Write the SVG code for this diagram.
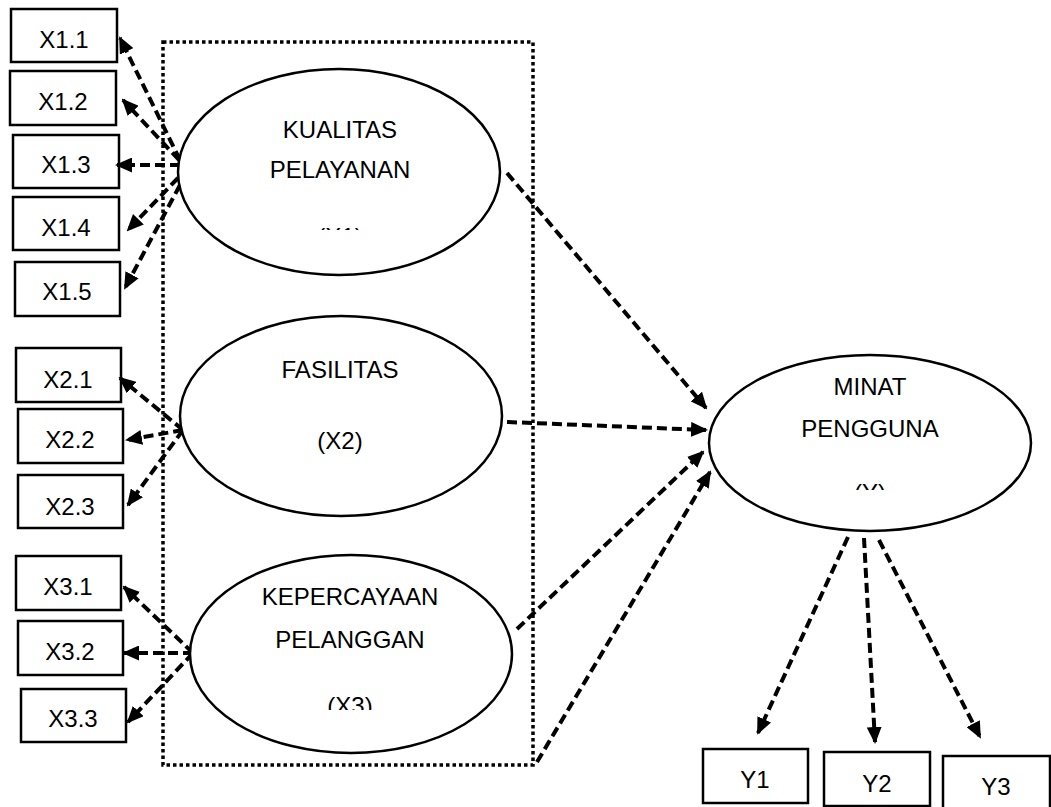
<svg xmlns="http://www.w3.org/2000/svg" width="1051" height="807" viewBox="0 0 1051 807">
<style>
.box{fill:#fff;stroke:#000;stroke-width:2.5}
.ell{fill:#fff;stroke:#000;stroke-width:2.5}
.t{font-family:"Liberation Sans",Arial,sans-serif;font-size:24px;fill:#000;text-anchor:middle}
.c{fill:none;stroke:#000;stroke-width:4;stroke-dasharray:10 5;marker-end:url(#ah)}
.dot{fill:none;stroke:#000;stroke-width:3.5;stroke-dasharray:3.5 3}
</style>
<defs>
<marker id="ah" markerUnits="userSpaceOnUse" markerWidth="17" markerHeight="15" viewBox="0 0 17 15" refX="15" refY="7.5" orient="auto">
<path d="M0,0 L17,7.5 L0,15 z" fill="#000"/>
</marker>
<clipPath id="cx1"><rect x="250" y="200" width="180" height="30"/></clipPath>
<clipPath id="cx3"><rect x="260" y="680" width="180" height="30"/></clipPath>
<clipPath id="cy"><rect x="780" y="470" width="180" height="20"/></clipPath>
</defs>
<rect width="1051" height="807" fill="#fff"/>
<rect id="group-box" class="dot" x="163" y="42" width="370" height="723"/>

<g id="X1.1"><rect class="box" x="11" y="9" width="106" height="53"/><text class="t" x="64" y="48">X1.1</text></g>
<g id="X1.2"><rect class="box" x="10" y="71" width="106" height="54"/><text class="t" x="63" y="110">X1.2</text></g>
<g id="X1.3"><rect class="box" x="13" y="135" width="106" height="53"/><text class="t" x="66" y="173">X1.3</text></g>
<g id="X1.4"><rect class="box" x="13" y="197" width="106" height="53"/><text class="t" x="66" y="236">X1.4</text></g>
<g id="X1.5"><rect class="box" x="15" y="262" width="105" height="54"/><text class="t" x="67" y="300">X1.5</text></g>

<g id="X2.1"><rect class="box" x="16" y="348" width="105" height="54"/><text class="t" x="68" y="388">X2.1</text></g>
<g id="X2.2"><rect class="box" x="18" y="409" width="105" height="54"/><text class="t" x="70" y="448">X2.2</text></g>
<g id="X2.3"><rect class="box" x="18" y="475" width="105" height="53"/><text class="t" x="70" y="515">X2.3</text></g>

<g id="X3.1"><rect class="box" x="16" y="556" width="105" height="54"/><text class="t" x="68" y="595">X3.1</text></g>
<g id="X3.2"><rect class="box" x="18" y="621" width="105" height="54"/><text class="t" x="70" y="660">X3.2</text></g>
<g id="X3.3"><rect class="box" x="21" y="689" width="105" height="53"/><text class="t" x="73" y="727">X3.3</text></g>

<g id="Y1"><rect class="box" x="703" y="749" width="105" height="54"/><text class="t" x="755" y="788">Y1</text></g>
<g id="Y2"><rect class="box" x="824" y="752" width="106" height="54"/><text class="t" x="877" y="792">Y2</text></g>
<g id="Y3"><rect class="box" x="943" y="756" width="107" height="54"/><text class="t" x="996" y="795">Y3</text></g>

<g id="connectors">
<line class="c" x1="180" y1="160" x2="120" y2="38"/>
<line class="c" x1="179" y1="160" x2="123" y2="100"/>
<line class="c" x1="180" y1="165" x2="117" y2="165"/>
<line class="c" x1="178" y1="178" x2="128" y2="230"/>
<line class="c" x1="180" y1="185" x2="125" y2="288"/>

<line class="c" x1="183" y1="430" x2="120" y2="378"/>
<line class="c" x1="183" y1="430" x2="127" y2="440"/>
<line class="c" x1="183" y1="430" x2="128" y2="505"/>

<line class="c" x1="193" y1="653" x2="124" y2="587"/>
<line class="c" x1="193" y1="653" x2="124" y2="653"/>
<line class="c" x1="193" y1="653" x2="128" y2="722"/>

<line class="c" x1="507" y1="173" x2="706" y2="408"/>
<line class="c" x1="507" y1="422" x2="706" y2="430"/>
<line class="c" x1="517" y1="629" x2="703" y2="452"/>
<line class="c" x1="537" y1="762" x2="710" y2="472"/>

<line class="c" x1="848" y1="537" x2="758" y2="733"/>
<line class="c" x1="864" y1="538" x2="875" y2="742"/>
<line class="c" x1="879" y1="540" x2="980" y2="737"/>
</g>

<g id="X1">
<ellipse class="ell" cx="339" cy="172" rx="161" ry="103"/>
<text class="t" x="340" y="138">KUALITAS</text>
<text class="t" x="340" y="178">PELAYANAN</text>
<text class="t" x="340" y="245" clip-path="url(#cx1)">(X1)</text>
</g>
<g id="X2">
<ellipse class="ell" cx="341" cy="416" rx="161" ry="100"/>
<text class="t" x="340" y="378">FASILITAS</text>
<text class="t" x="340" y="449">(X2)</text>
</g>
<g id="X3">
<ellipse class="ell" cx="351" cy="654" rx="161" ry="99"/>
<text class="t" x="350" y="605">KEPERCAYAAN</text>
<text class="t" x="350" y="648">PELANGGAN</text>
<text class="t" x="350" y="714" clip-path="url(#cx3)">(X3)</text>
</g>
<g id="Y">
<ellipse class="ell" cx="870" cy="443" rx="161" ry="88"/>
<text class="t" x="870" y="395">MINAT</text>
<text class="t" x="870" y="437">PENGGUNA</text>
<text class="t" x="870" y="501" clip-path="url(#cy)">(Y)</text>
</g>
</svg>
